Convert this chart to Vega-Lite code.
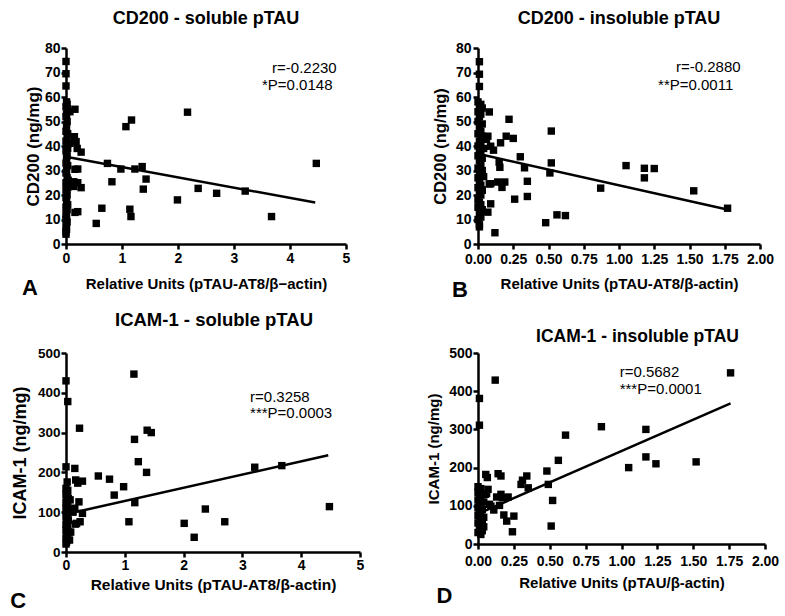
{
  "$schema": "https://vega.github.io/schema/vega-lite/v6.json",
  "background": "white",
  "padding": {"left": 10, "top": 10, "right": 5, "bottom": 5},
  "columns": 2,
  "align": "none",
  "bounds": "flush",
  "spacing": {"row": 109, "column": 118},
  "datasets": {
    "pts": [
      {"panel":"A","x":0,"y":74.5},{"panel":"A","x":0,"y":69.5},{"panel":"A","x":0,"y":64.5},{"panel":"A","x":0.01,"y":58},{"panel":"A","x":0.02,"y":57},{"panel":"A","x":0,"y":56},{"panel":"A","x":0.03,"y":55},{"panel":"A","x":0.07,"y":54},{"panel":"A","x":0.01,"y":53},{"panel":"A","x":0,"y":52},{"panel":"A","x":0.02,"y":50},{"panel":"A","x":0.01,"y":48},{"panel":"A","x":0,"y":46},{"panel":"A","x":0.03,"y":45},{"panel":"A","x":0.02,"y":43},{"panel":"A","x":0,"y":42},{"panel":"A","x":0.04,"y":41},{"panel":"A","x":0.01,"y":40},{"panel":"A","x":0.03,"y":39},{"panel":"A","x":0,"y":38},{"panel":"A","x":0.02,"y":36},{"panel":"A","x":0.01,"y":35},{"panel":"A","x":0,"y":33},{"panel":"A","x":0.03,"y":32},{"panel":"A","x":0.01,"y":30},{"panel":"A","x":0,"y":29},{"panel":"A","x":0.02,"y":27},{"panel":"A","x":0.04,"y":26},{"panel":"A","x":0,"y":25},{"panel":"A","x":0.01,"y":24},{"panel":"A","x":0.03,"y":23},{"panel":"A","x":0,"y":22},{"panel":"A","x":0.02,"y":20},{"panel":"A","x":0,"y":19},{"panel":"A","x":0.01,"y":17},{"panel":"A","x":0.03,"y":16},{"panel":"A","x":0,"y":15},{"panel":"A","x":0.02,"y":14},{"panel":"A","x":0,"y":12},{"panel":"A","x":0.01,"y":11},{"panel":"A","x":0,"y":10},{"panel":"A","x":0.02,"y":9},{"panel":"A","x":0,"y":7},{"panel":"A","x":0.01,"y":6},{"panel":"A","x":0,"y":5},{"panel":"A","x":0,"y":4},
      {"panel":"A","x":0.16,"y":55},{"panel":"A","x":0.15,"y":43.8},{"panel":"A","x":0.18,"y":41.8},{"panel":"A","x":0.07,"y":41.1},{"panel":"A","x":0.2,"y":39},{"panel":"A","x":0.27,"y":37.5},{"panel":"A","x":0.16,"y":30.5},{"panel":"A","x":0.21,"y":30.6},{"panel":"A","x":0.08,"y":24.8},{"panel":"A","x":0.14,"y":25.4},{"panel":"A","x":0.21,"y":25},{"panel":"A","x":0.27,"y":23},{"panel":"A","x":0.14,"y":23.5},{"panel":"A","x":0.16,"y":12.9},{"panel":"A","x":0.21,"y":13.2},{"panel":"A","x":0.54,"y":8.4},{"panel":"A","x":0.64,"y":14.6},{"panel":"A","x":0.74,"y":32.9},{"panel":"A","x":0.82,"y":25.4},{"panel":"A","x":0.98,"y":30.6},{"panel":"A","x":1.07,"y":47.9},{"panel":"A","x":1.17,"y":50.6},{"panel":"A","x":1.14,"y":14.2},{"panel":"A","x":1.16,"y":11.2},{"panel":"A","x":1.23,"y":30.6},{"panel":"A","x":1.36,"y":31.6},{"panel":"A","x":1.38,"y":22.4},{"panel":"A","x":1.43,"y":26.5},{"panel":"A","x":1.99,"y":18},{"panel":"A","x":2.17,"y":53.8},{"panel":"A","x":2.36,"y":22.7},{"panel":"A","x":2.69,"y":20.7},{"panel":"A","x":3.2,"y":21.6},{"panel":"A","x":3.67,"y":11.2},{"panel":"A","x":4.47,"y":32.9},
      {"panel":"B","x":0.01,"y":74.4},{"panel":"B","x":0.01,"y":69.3},{"panel":"B","x":0.01,"y":64.3},{"panel":"B","x":0,"y":58},{"panel":"B","x":0.02,"y":57},{"panel":"B","x":0.01,"y":56},{"panel":"B","x":0.03,"y":55.5},{"panel":"B","x":0,"y":54},{"panel":"B","x":0.02,"y":53},{"panel":"B","x":0.01,"y":52},{"panel":"B","x":0,"y":50},{"panel":"B","x":0.03,"y":49},{"panel":"B","x":0.01,"y":48},{"panel":"B","x":0.02,"y":46},{"panel":"B","x":0,"y":45},{"panel":"B","x":0.03,"y":44},{"panel":"B","x":0.01,"y":42},{"panel":"B","x":0.02,"y":41},{"panel":"B","x":0,"y":40},{"panel":"B","x":0.04,"y":39},{"panel":"B","x":0.01,"y":38},{"panel":"B","x":0.02,"y":37},{"panel":"B","x":0,"y":36},{"panel":"B","x":0.03,"y":35},{"panel":"B","x":0.01,"y":34},{"panel":"B","x":0.02,"y":32},{"panel":"B","x":0,"y":31},{"panel":"B","x":0.03,"y":30},{"panel":"B","x":0.01,"y":29},{"panel":"B","x":0.02,"y":28},{"panel":"B","x":0,"y":27},{"panel":"B","x":0.04,"y":27.5},{"panel":"B","x":0.01,"y":26},{"panel":"B","x":0.02,"y":24},{"panel":"B","x":0,"y":23},{"panel":"B","x":0.03,"y":22},{"panel":"B","x":0.01,"y":21},{"panel":"B","x":0.02,"y":20},{"panel":"B","x":0,"y":18},{"panel":"B","x":0.01,"y":17},{"panel":"B","x":0.02,"y":16},{"panel":"B","x":0,"y":15},{"panel":"B","x":0.03,"y":14},{"panel":"B","x":0.01,"y":12},{"panel":"B","x":0.02,"y":11},{"panel":"B","x":0,"y":10},{"panel":"B","x":0.01,"y":8},{"panel":"B","x":0.01,"y":7},
      {"panel":"B","x":0.08,"y":53.9},{"panel":"B","x":0.22,"y":50.9},{"panel":"B","x":0.52,"y":46.1},{"panel":"B","x":0.07,"y":44},{"panel":"B","x":0.06,"y":42.7},{"panel":"B","x":0.2,"y":44},{"panel":"B","x":0.25,"y":43.1},{"panel":"B","x":0.16,"y":41.3},{"panel":"B","x":0.09,"y":39.9},{"panel":"B","x":0.11,"y":38.3},{"panel":"B","x":0.3,"y":35.6},{"panel":"B","x":0.52,"y":33.1},{"panel":"B","x":0.15,"y":33.4},{"panel":"B","x":0.155,"y":31.3},{"panel":"B","x":0.33,"y":31.1},{"panel":"B","x":0.51,"y":29},{"panel":"B","x":0.09,"y":24.6},{"panel":"B","x":0.14,"y":25.3},{"panel":"B","x":0.19,"y":25.3},{"panel":"B","x":0.17,"y":23.1},{"panel":"B","x":0.35,"y":25.6},{"panel":"B","x":0.35,"y":19.4},{"panel":"B","x":0.26,"y":18.3},{"panel":"B","x":0.09,"y":16.4},{"panel":"B","x":0.07,"y":13},{"panel":"B","x":0.03,"y":13.7},{"panel":"B","x":0.12,"y":4.6},{"panel":"B","x":0.48,"y":8.7},{"panel":"B","x":0.56,"y":11.9},{"panel":"B","x":0.62,"y":11.6},{"panel":"B","x":0.87,"y":22.8},{"panel":"B","x":1.05,"y":32},{"panel":"B","x":1.18,"y":30.9},{"panel":"B","x":1.25,"y":30.8},{"panel":"B","x":1.18,"y":27},{"panel":"B","x":1.53,"y":21.7},{"panel":"B","x":1.77,"y":14.6},{"panel":"B","x":0.08,"y":24.5},{"panel":"B","x":0.03,"y":28.3},{"panel":"B","x":0.03,"y":22},
      {"panel":"C","x":0,"y":430},{"panel":"C","x":0.03,"y":378},{"panel":"C","x":0,"y":214},{"panel":"C","x":0.02,"y":176},{"panel":"C","x":0,"y":160},{"panel":"C","x":0.03,"y":155},{"panel":"C","x":0.01,"y":150},{"panel":"C","x":0,"y":145},{"panel":"C","x":0.02,"y":140},{"panel":"C","x":0.04,"y":135},{"panel":"C","x":0.01,"y":130},{"panel":"C","x":0,"y":125},{"panel":"C","x":0.03,"y":120},{"panel":"C","x":0.02,"y":115},{"panel":"C","x":0,"y":110},{"panel":"C","x":0.05,"y":105},{"panel":"C","x":0.01,"y":100},{"panel":"C","x":0.03,"y":95},{"panel":"C","x":0,"y":90},{"panel":"C","x":0.02,"y":85},{"panel":"C","x":0.04,"y":80},{"panel":"C","x":0.01,"y":75},{"panel":"C","x":0,"y":70},{"panel":"C","x":0.03,"y":65},{"panel":"C","x":0.02,"y":60},{"panel":"C","x":0,"y":55},{"panel":"C","x":0.05,"y":50},{"panel":"C","x":0.01,"y":45},{"panel":"C","x":0.03,"y":40},{"panel":"C","x":0,"y":35},{"panel":"C","x":0.02,"y":30},{"panel":"C","x":0.01,"y":25},{"panel":"C","x":0,"y":20},
      {"panel":"C","x":0.23,"y":311},{"panel":"C","x":0.15,"y":210},{"panel":"C","x":0.165,"y":181},{"panel":"C","x":0.28,"y":178},{"panel":"C","x":0.2,"y":173},{"panel":"C","x":0.22,"y":126},{"panel":"C","x":0.15,"y":110},{"panel":"C","x":0.28,"y":97},{"panel":"C","x":0.18,"y":72},{"panel":"C","x":0.24,"y":76},{"panel":"C","x":0.07,"y":131},{"panel":"C","x":0.1,"y":105},{"panel":"C","x":0.16,"y":70},{"panel":"C","x":0.08,"y":50},{"panel":"C","x":0.06,"y":30},{"panel":"C","x":0.12,"y":100},
      {"panel":"C","x":0.55,"y":191},{"panel":"C","x":0.74,"y":183},{"panel":"C","x":0.82,"y":143},{"panel":"C","x":0.98,"y":164},{"panel":"C","x":1.155,"y":447},{"panel":"C","x":1.165,"y":283},{"panel":"C","x":1.38,"y":306},{"panel":"C","x":1.45,"y":300},{"panel":"C","x":1.23,"y":227},{"panel":"C","x":1.37,"y":200},{"panel":"C","x":1.17,"y":124},{"panel":"C","x":1.07,"y":76},{"panel":"C","x":2.01,"y":72},{"panel":"C","x":2.18,"y":37},{"panel":"C","x":2.37,"y":108},{"panel":"C","x":2.7,"y":76},{"panel":"C","x":3.21,"y":213},{"panel":"C","x":3.67,"y":217},{"panel":"C","x":4.48,"y":114},
      {"panel":"D","x":0.01,"y":381},{"panel":"D","x":0.01,"y":311},{"panel":"D","x":0,"y":150},{"panel":"D","x":0.02,"y":145},{"panel":"D","x":0.01,"y":140},{"panel":"D","x":0,"y":135},{"panel":"D","x":0.03,"y":130},{"panel":"D","x":0.01,"y":125},{"panel":"D","x":0.02,"y":120},{"panel":"D","x":0,"y":115},{"panel":"D","x":0.04,"y":110},{"panel":"D","x":0.01,"y":105},{"panel":"D","x":0.02,"y":100},{"panel":"D","x":0,"y":95},{"panel":"D","x":0.03,"y":90},{"panel":"D","x":0.01,"y":85},{"panel":"D","x":0.02,"y":80},{"panel":"D","x":0,"y":75},{"panel":"D","x":0.04,"y":70},{"panel":"D","x":0.01,"y":65},{"panel":"D","x":0.03,"y":60},{"panel":"D","x":0,"y":55},{"panel":"D","x":0.02,"y":50},{"panel":"D","x":0.04,"y":45},{"panel":"D","x":0.01,"y":40},{"panel":"D","x":0.03,"y":35},{"panel":"D","x":0,"y":30},{"panel":"D","x":0.02,"y":25},
      {"panel":"D","x":0.12,"y":429},{"panel":"D","x":0.054,"y":182},{"panel":"D","x":0.065,"y":174},{"panel":"D","x":0.07,"y":143},{"panel":"D","x":0.14,"y":184},{"panel":"D","x":0.16,"y":178},{"panel":"D","x":0.05,"y":130},{"panel":"D","x":0.16,"y":130},{"panel":"D","x":0.17,"y":121},{"panel":"D","x":0.13,"y":123},{"panel":"D","x":0.21,"y":123},{"panel":"D","x":0.08,"y":104},{"panel":"D","x":0.09,"y":99},{"panel":"D","x":0.11,"y":89},{"panel":"D","x":0.18,"y":76},{"panel":"D","x":0.2,"y":60},{"panel":"D","x":0.25,"y":73},{"panel":"D","x":0.24,"y":32},{"panel":"D","x":0.3,"y":156},{"panel":"D","x":0.31,"y":167},{"panel":"D","x":0.34,"y":178},{"panel":"D","x":0.35,"y":147},{"panel":"D","x":0.48,"y":191},{"panel":"D","x":0.49,"y":156},{"panel":"D","x":0.52,"y":114},{"panel":"D","x":0.51,"y":47},{"panel":"D","x":0.56,"y":219},{"panel":"D","x":0.61,"y":285},{"panel":"D","x":0.86,"y":307},{"panel":"D","x":1.17,"y":300},{"panel":"D","x":1.17,"y":228},{"panel":"D","x":1.05,"y":200},{"panel":"D","x":1.24,"y":210},{"panel":"D","x":1.52,"y":215},{"panel":"D","x":1.76,"y":448},{"panel":"D","x":0.06,"y":132},{"panel":"D","x":0.15,"y":101}
    ],
    "fits": [
      {"panel":"A","x":0,"y":35.6},{"panel":"A","x":4.45,"y":16.9},
      {"panel":"B","x":0,"y":36.8},{"panel":"B","x":1.76,"y":14.2},
      {"panel":"C","x":0,"y":95},{"panel":"C","x":4.46,"y":243},
      {"panel":"D","x":0,"y":79},{"panel":"D","x":1.76,"y":368}
    ],
    "notes": [
      {"panel":"A","x":3.68,"y":69.8,"label":"r=-0.2230"},{"panel":"A","x":3.5,"y":62.9,"label":"*P=0.0148"},
      {"panel":"B","x":1.404,"y":70.3,"label":"r=-0.2880"},{"panel":"B","x":1.277,"y":62.9,"label":"**P=0.0011"},
      {"panel":"C","x":3.13,"y":377.6,"label":"r=0.3258"},{"panel":"C","x":3.13,"y":336,"label":"***P=0.0003"},
      {"panel":"D","x":0.987,"y":436,"label":"r=0.5682"},{"panel":"D","x":0.987,"y":392,"label":"***P=0.0001"}
    ],
    "letters": [
      {"panel":"A","x":-0.786,"y":-20.8,"label":"A"},
      {"panel":"B","x":-0.184,"y":-21.6,"label":"B"},
      {"panel":"C","x":-0.95,"y":-141,"label":"C"},
      {"panel":"D","x":-0.29,"y":-153.7,"label":"D"}
    ]
  },
  "concat": [
    {
      "width": 280, "height": 196,
      "title": {"text": "CD200 - soluble pTAU", "frame": "group", "offset": 13},
      "encoding": {
        "x": {"field": "x", "type": "quantitative", "scale": {"domain": [0, 5], "nice": false},
              "axis": {"values": [0,1,2,3,4,5], "title": "Relative Units (pTAU-AT8/β−actin)", "titlePadding": 11, "labelPadding": 2}},
        "y": {"field": "y", "type": "quantitative", "scale": {"domain": [0, 80], "nice": false},
              "axis": {"values": [0,10,20,30,40,50,60,70,80], "title": "CD200 (ng/mg)", "titleFontSize": 17, "titlePadding": 2, "labelPadding": 1}}
      },
      "layer": [
        {"data": {"name": "pts"}, "transform": [{"filter": "datum.panel === 'A'"}],
         "mark": {"type": "point", "shape": "square", "filled": true, "size": 55, "color": "black", "opacity": 1}},
        {"data": {"name": "fits"}, "transform": [{"filter": "datum.panel === 'A'"}],
         "mark": {"type": "line", "color": "black", "strokeWidth": 2.5}},
        {"data": {"name": "notes"}, "transform": [{"filter": "datum.panel === 'A'"}],
         "mark": {"type": "text", "align": "left", "baseline": "alphabetic", "fontSize": 15, "color": "black"},
         "encoding": {"text": {"field": "label"}}},
        {"data": {"name": "letters"}, "transform": [{"filter": "datum.panel === 'A'"}],
         "mark": {"type": "text", "align": "left", "baseline": "alphabetic", "fontSize": 22, "fontWeight": "bold", "color": "black"},
         "encoding": {"text": {"field": "label"}}}
      ]
    },
    {
      "width": 282, "height": 196,
      "title": {"text": "CD200 - insoluble pTAU", "frame": "group", "offset": 13},
      "encoding": {
        "x": {"field": "x", "type": "quantitative", "scale": {"domain": [0, 2], "nice": false},
              "axis": {"values": [0,0.25,0.5,0.75,1,1.25,1.5,1.75,2], "format": ".2f", "title": "Relative Units (pTAU-AT8/β-actin)", "titlePadding": 10, "labelPadding": 3}},
        "y": {"field": "y", "type": "quantitative", "scale": {"domain": [0, 80], "nice": false},
              "axis": {"values": [0,10,20,30,40,50,60,70,80], "title": "CD200 (ng/mg)", "titleFontSize": 16.5, "titlePadding": 7, "labelPadding": 2}}
      },
      "layer": [
        {"data": {"name": "pts"}, "transform": [{"filter": "datum.panel === 'B'"}],
         "mark": {"type": "point", "shape": "square", "filled": true, "size": 55, "color": "black", "opacity": 1}},
        {"data": {"name": "fits"}, "transform": [{"filter": "datum.panel === 'B'"}],
         "mark": {"type": "line", "color": "black", "strokeWidth": 2.5}},
        {"data": {"name": "notes"}, "transform": [{"filter": "datum.panel === 'B'"}],
         "mark": {"type": "text", "align": "left", "baseline": "alphabetic", "fontSize": 15, "color": "black"},
         "encoding": {"text": {"field": "label"}}},
        {"data": {"name": "letters"}, "transform": [{"filter": "datum.panel === 'B'"}],
         "mark": {"type": "text", "align": "left", "baseline": "alphabetic", "fontSize": 22, "fontWeight": "bold", "color": "black"},
         "encoding": {"text": {"field": "label"}}}
      ]
    },
    {
      "width": 294, "height": 199,
      "title": {"text": "ICAM-1 - soluble pTAU", "frame": "group", "offset": 17, "dx": 1, "fontSize": 18.5},
      "encoding": {
        "x": {"field": "x", "type": "quantitative", "scale": {"domain": [0, 5], "nice": false},
              "axis": {"values": [0,1,2,3,4,5], "title": "Relative Units (pTAU-AT8/β-actin)", "titleFontSize": 15.5, "titlePadding": 5, "labelPadding": 1}},
        "y": {"field": "y", "type": "quantitative", "scale": {"domain": [0, 500], "nice": false},
              "axis": {"values": [0,100,200,300,400,500], "title": "ICAM-1 (ng/mg)", "titleFontSize": 18, "titlePadding": 8, "labelPadding": 1, "labelFontSize": 13.5}}
      },
      "layer": [
        {"data": {"name": "pts"}, "transform": [{"filter": "datum.panel === 'C'"}],
         "mark": {"type": "point", "shape": "square", "filled": true, "size": 55, "color": "black", "opacity": 1}},
        {"data": {"name": "fits"}, "transform": [{"filter": "datum.panel === 'C'"}],
         "mark": {"type": "line", "color": "black", "strokeWidth": 2.5}},
        {"data": {"name": "notes"}, "transform": [{"filter": "datum.panel === 'C'"}],
         "mark": {"type": "text", "align": "left", "baseline": "alphabetic", "fontSize": 15, "color": "black"},
         "encoding": {"text": {"field": "label"}}},
        {"data": {"name": "letters"}, "transform": [{"filter": "datum.panel === 'C'"}],
         "mark": {"type": "text", "align": "left", "baseline": "alphabetic", "fontSize": 22, "fontWeight": "bold", "color": "black"},
         "encoding": {"text": {"field": "label"}}}
      ]
    },
    {
      "width": 287, "height": 191,
      "title": {"text": "ICAM-1 - insoluble pTAU", "frame": "group", "offset": 1, "dx": 16, "fontSize": 17.5},
      "encoding": {
        "x": {"field": "x", "type": "quantitative", "scale": {"domain": [0, 2], "nice": false},
              "axis": {"values": [0,0.25,0.5,0.75,1,1.25,1.5,1.75,2], "format": ".2f", "title": "Relative Units (pTAU/β-actin)", "titlePadding": 7, "labelPadding": 5}},
        "y": {"field": "y", "type": "quantitative", "scale": {"domain": [0, 500], "nice": false},
              "axis": {"values": [0,100,200,300,400,500], "title": "ICAM-1 (ng/mg)", "titlePadding": 7, "labelPadding": 1}}
      },
      "layer": [
        {"data": {"name": "pts"}, "transform": [{"filter": "datum.panel === 'D'"}],
         "mark": {"type": "point", "shape": "square", "filled": true, "size": 55, "color": "black", "opacity": 1}},
        {"data": {"name": "fits"}, "transform": [{"filter": "datum.panel === 'D'"}],
         "mark": {"type": "line", "color": "black", "strokeWidth": 2.5}},
        {"data": {"name": "notes"}, "transform": [{"filter": "datum.panel === 'D'"}],
         "mark": {"type": "text", "align": "left", "baseline": "alphabetic", "fontSize": 15, "color": "black"},
         "encoding": {"text": {"field": "label"}}},
        {"data": {"name": "letters"}, "transform": [{"filter": "datum.panel === 'D'"}],
         "mark": {"type": "text", "align": "left", "baseline": "alphabetic", "fontSize": 22, "fontWeight": "bold", "color": "black"},
         "encoding": {"text": {"field": "label"}}}
      ]
    }
  ],
  "config": {
    "font": "Liberation Sans",
    "view": {"stroke": null},
    "title": {"fontSize": 18, "fontWeight": "bold", "color": "black", "font": "Liberation Sans"},
    "axis": {
      "grid": false,
      "domainColor": "black", "domainWidth": 2.5,
      "tickColor": "black", "tickWidth": 2.5, "tickSize": 5,
      "labelFont": "Liberation Sans", "labelFontSize": 14, "labelFontWeight": "bold", "labelColor": "black",
      "titleFont": "Liberation Sans", "titleFontSize": 15, "titleFontWeight": "bold", "titleColor": "black",
      "labelOverlap": false, "labelFlush": false
    }
  }
}
